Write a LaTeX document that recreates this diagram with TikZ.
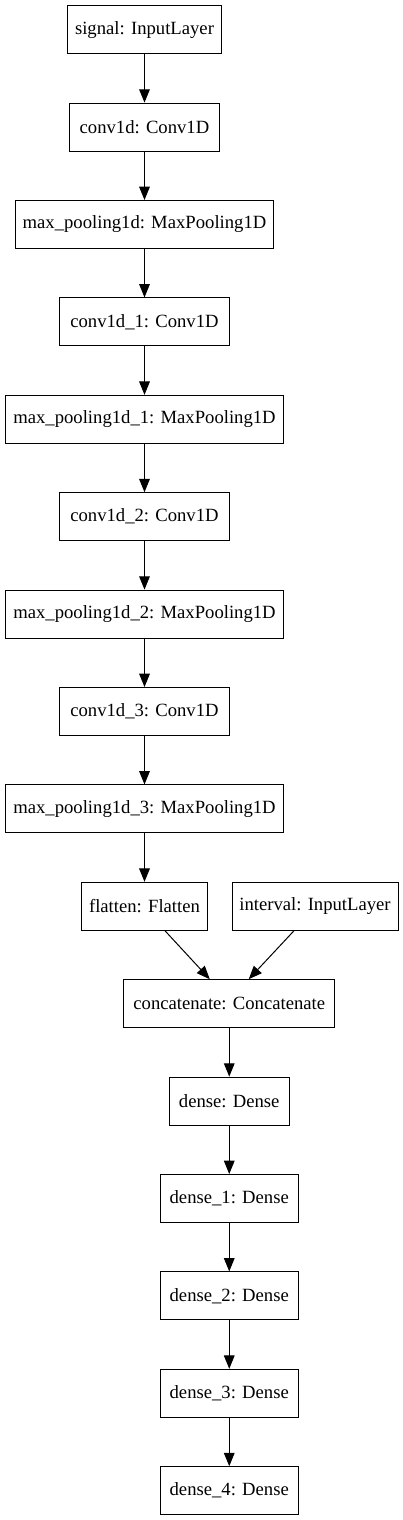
\documentclass[tikz,border=0pt]{standalone}
\usepackage{fontspec}
\setmainfont{Liberation Serif}
\usetikzlibrary{arrows.meta}
\begin{document}
\begin{tikzpicture}[x=0.75pt,y=-0.75pt,
  layer/.style={draw=black,line width=0.75pt,minimum height=36pt,inner sep=0pt,
    font=\fontsize{14}{16}\selectfont,anchor=center},
  arr/.style={draw=black,line width=0.75pt,-{Triangle[length=10pt,width=8pt]}}]
\useasboundingbox[fill=white] (0,0) rectangle (403,1520);
\def\cx{144.5}
\def\dx{229.25}
\node[layer,minimum width=116pt] (signal) at (\cx,29.7) {signal: InputLayer};
\node[layer,minimum width=113pt] (c0) at (\cx,127.1) {conv1d: Conv1D};
\node[layer,minimum width=194pt] (m0) at (\cx,224.5) {max\_pooling1d: MaxPooling1D};
\node[layer,minimum width=127pt] (c1) at (\cx,321.9) {conv1d\_1: Conv1D};
\node[layer,minimum width=209pt] (m1) at (\cx,419.3) {max\_pooling1d\_1: MaxPooling1D};
\node[layer,minimum width=127pt] (c2) at (\cx,516.7) {conv1d\_2: Conv1D};
\node[layer,minimum width=209pt] (m2) at (\cx,614.1) {max\_pooling1d\_2: MaxPooling1D};
\node[layer,minimum width=127pt] (c3) at (\cx,711.5) {conv1d\_3: Conv1D};
\node[layer,minimum width=209pt] (m3) at (\cx,808.9) {max\_pooling1d\_3: MaxPooling1D};
\node[layer,minimum width=95pt] (flatten) at (\cx,906.3) {flatten: Flatten};
\node[layer,minimum width=124.5pt] (interval) at (315,906.3) {interval: InputLayer};
\node[layer,minimum width=158pt] (concat) at (\dx,1003.7) {concatenate: Concatenate};
\node[layer,minimum width=90pt] (d0) at (\dx,1101.1) {dense: Dense};
\node[layer,minimum width=103.5pt] (d1) at (\dx,1198.5) {dense\_1: Dense};
\node[layer,minimum width=103.5pt] (d2) at (\dx,1295.9) {dense\_2: Dense};
\node[layer,minimum width=103.5pt] (d3) at (\dx,1393.3) {dense\_3: Dense};
\node[layer,minimum width=103.5pt] (d4) at (\dx,1490.7) {dense\_4: Dense};
\draw[arr] (signal) -- (c0);
\draw[arr] (c0) -- (m0);
\draw[arr] (m0) -- (c1);
\draw[arr] (c1) -- (m1);
\draw[arr] (m1) -- (c2);
\draw[arr] (c2) -- (m2);
\draw[arr] (m2) -- (c3);
\draw[arr] (c3) -- (m3);
\draw[arr] (m3) -- (flatten);
\draw[arr] ([xshift=15.4pt]flatten.south) -- ([xshift=-14.6pt]concat.north);
\draw[arr] ([xshift=-15.8pt]interval.south) -- ([xshift=14.6pt]concat.north);
\draw[arr] (concat) -- (d0);
\draw[arr] (d0) -- (d1);
\draw[arr] (d1) -- (d2);
\draw[arr] (d2) -- (d3);
\draw[arr] (d3) -- (d4);
\end{tikzpicture}
\end{document}
